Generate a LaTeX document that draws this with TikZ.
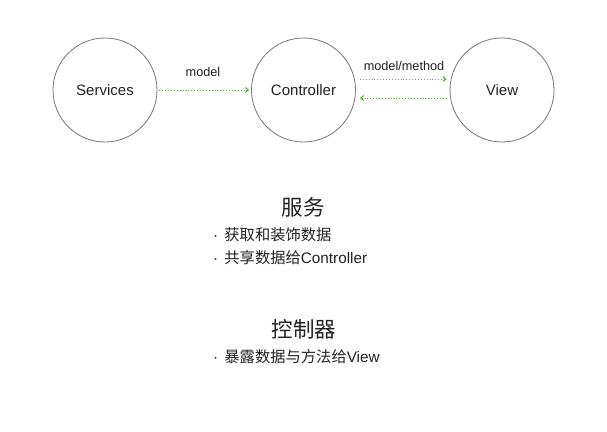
\documentclass[tikz,border=0pt]{standalone}
\usepackage{fontspec}
\setmainfont{Liberation Sans}
\newfontfamily\cjk{Noto Sans CJK SC}
\usetikzlibrary{arrows.meta}
\definecolor{arrowgreen}{HTML}{5DA94A}
\definecolor{txt}{HTML}{222222}
\definecolor{circ}{HTML}{777777}
\begin{document}
\begin{tikzpicture}[x=1pt,y=-1pt,
  comp/.style={circle,draw=circ,line width=0.8pt,minimum size=104pt,inner sep=0pt,font=\fontsize{15}{18}\selectfont,text=txt},
  flow/.style={draw=arrowgreen,line width=0.9pt,dotted,-{Straight Barb[length=3pt,width=5pt,line width=1pt]}},
  lbl/.style={font=\fontsize{12.7}{15}\selectfont,text=txt},
  head/.style={font=\cjk\fontsize{21.5}{26}\selectfont,text=txt},
  item/.style={anchor=west,font=\fontsize{15.3}{18}\selectfont,text=txt,inner sep=0pt}]
\useasboundingbox[fill=white] (0,0) rectangle (607,431);
\node[comp] (svc) at (105,90) {Services};
\node[comp] (ctl) at (303.5,90) {Controller};
\node[comp] (view) at (502,90) {View};
\draw[flow,shorten <=2pt,shorten >=2pt] (svc.east) -- (ctl.west);
\node[lbl] (m1) at (203,72) {model};
\draw[flow,shorten <=4pt,shorten >=3pt] (ctl.east |- 0,79) -- (view.west |- 0,79);
\draw[flow,shorten <=3pt,shorten >=4pt] (view.west |- 0,98) -- (ctl.east |- 0,98);
\node[lbl] (m2) at (404,66) {model/method};
\node[head] (h1) at (303,207) {服务};
\node[item] (b1) at (213,235) {·\hspace{0.4em}{\cjk 获取和装饰数据}};
\node[item] (b2) at (213,258) {·\hspace{0.4em}{\cjk 共享数据给}Controller};
\node[head] (h2) at (304,329) {控制器};
\node[item] (b3) at (213,357) {·\hspace{0.4em}{\cjk 暴露数据与方法给}View};
\end{tikzpicture}
\end{document}
